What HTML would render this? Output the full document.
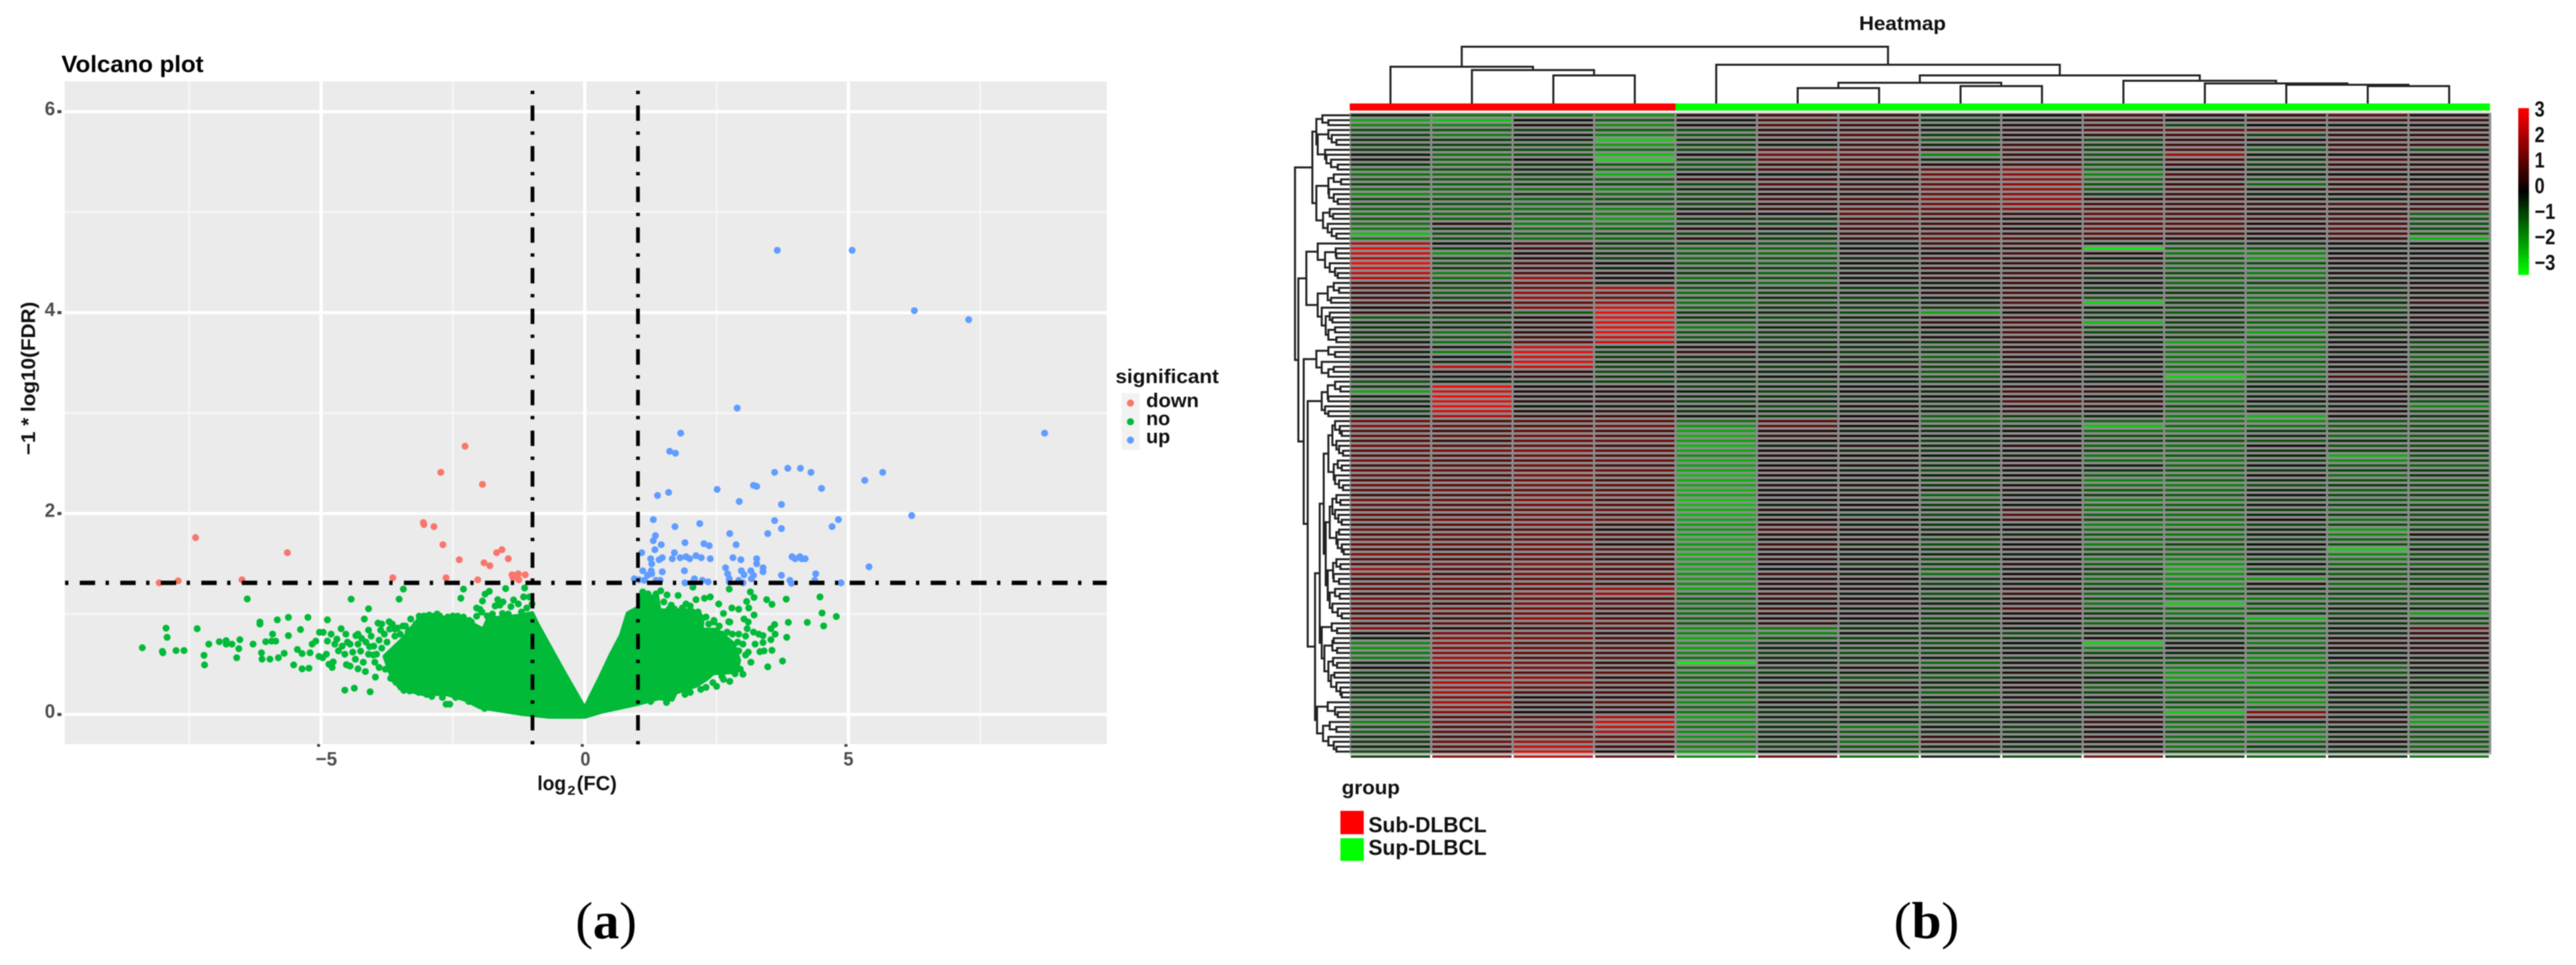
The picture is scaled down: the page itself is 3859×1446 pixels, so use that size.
<!DOCTYPE html>
<html lang="en">
<head>
<meta charset="utf-8">
<title>Volcano plot and heatmap</title>
<style>
html,body{margin:0;padding:0;background:#fff;}
body{width:3859px;height:1446px;overflow:hidden;}
svg{display:block;filter:blur(.8px);}
text{font-family:"Liberation Sans",sans-serif;font-weight:bold;}
.cap{font-family:"Liberation Serif",serif;font-weight:normal;}
</style>
</head>
<body>
<svg id="figure" xmlns="http://www.w3.org/2000/svg" width="3859" height="1446" viewBox="0 0 3859 1446">
  <defs>
    <linearGradient id="bar-grad" x1="0" y1="0" x2="0" y2="1">
      <stop offset="0" stop-color="#ff0000"/><stop offset=".5" stop-color="#000"/><stop offset="1" stop-color="#00ff00"/>
    </linearGradient>
  </defs>
  <g id="volcano">
    <rect x="97" y="122" width="1561" height="993" fill="#EBEBEB"/>
    <g id="v-grid"></g>
    <g id="v-no"></g>
    <g id="v-down"></g>
    <g id="v-up"></g>
    <g id="v-ref"></g>
    <g id="v-axes"></g>
    <text x="92" y="108" font-size="35" textLength="213" lengthAdjust="spacingAndGlyphs" fill="#000">Volcano plot</text>
    <text transform="translate(52.5,682) rotate(-90)" font-size="30" textLength="230" lengthAdjust="spacingAndGlyphs" fill="#111">−1 * log10(FDR)</text>
    <text x="805" y="1184" font-size="31" textLength="43" lengthAdjust="spacingAndGlyphs" fill="#111">log</text>
    <text x="850" y="1191" font-size="19" textLength="12" lengthAdjust="spacingAndGlyphs" fill="#111">2</text>
    <text x="864" y="1184" font-size="31" textLength="60" lengthAdjust="spacingAndGlyphs" fill="#111">(FC)</text>
    <g>
      <text x="1671" y="574" font-size="30" textLength="155" lengthAdjust="spacingAndGlyphs" fill="#111">significant</text>
      <rect x="1680" y="589" width="27" height="85" fill="#F2F2F2"/>
      <circle cx="1693.5" cy="604" r="5.3" fill="#F8766D"/>
      <circle cx="1693.5" cy="632" r="5.3" fill="#00BA38"/>
      <circle cx="1693.5" cy="659.5" r="5.3" fill="#619CFF"/>
      <text x="1717" y="610" font-size="30" textLength="79" lengthAdjust="spacingAndGlyphs" fill="#111">down</text>
      <text x="1717" y="637" font-size="30" textLength="36" lengthAdjust="spacingAndGlyphs" fill="#111">no</text>
      <text x="1717" y="664" font-size="30" textLength="36" lengthAdjust="spacingAndGlyphs" fill="#111">up</text>
    </g>
    <text class="cap" x="862" y="1406" font-size="78" textLength="92" lengthAdjust="spacingAndGlyphs" fill="#000">(<tspan font-weight="bold">a</tspan>)</text>
  </g>
  <g id="heat">
    <text x="2785" y="45" font-size="30" textLength="130" lengthAdjust="spacingAndGlyphs" fill="#111">Heatmap</text>
    <g id="h-top-tree"></g>
    <g id="h-group"></g>
    <rect x="2022" y="169" width="1710" height="961" fill="#8c8c8c"/>
    <rect x="2022" y="1128" width="1710" height="3" fill="#b5b5b5"/>
    <g id="h-cells"></g>
    <g id="h-left-tree"></g>
    <rect x="3772.5" y="162" width="16" height="250" fill="url(#bar-grad)"/>
    <g id="h-scale"></g>
    <text x="2010" y="1190" font-size="30" textLength="87" lengthAdjust="spacingAndGlyphs" fill="#111">group</text>
    <rect x="2008" y="1215" width="35" height="35" fill="#ff0000"/>
    <rect x="2008" y="1256" width="35" height="34" fill="#00ff00"/>
    <text x="2050" y="1247" font-size="32" textLength="177" lengthAdjust="spacingAndGlyphs" fill="#111">Sub-DLBCL</text>
    <text x="2050" y="1281" font-size="32" textLength="177" lengthAdjust="spacingAndGlyphs" fill="#111">Sup-DLBCL</text>
    <text class="cap" x="2837" y="1406" font-size="78" textLength="98" lengthAdjust="spacingAndGlyphs" fill="#000">(<tspan font-weight="bold">b</tspan>)</text>
  </g>
</svg>
<script>
/* ---------- volcano data: [log2FC, -log10 FDR] ---------- */
const xTickValues=[-5,0,5];
const xTickLabels=["−5","0","5"];
const yTickValues=[0,2,4,6];
const yTickLabels=["0","2","4","6"];
const xMajorGrid=[-5,0,5];
const xMinorGrid=[-7.5,-2.5,2.5,7.5];
const yMajorGrid=[0,2,4,6];
const yMinorGrid=[1,3,5];
const fcCutoffs=[-1,1];
const fdrCutoff=[1.31];
const downPoints=[[-2.27,2.67],[-2.73,2.41],[-1.94,2.29],[-3.06,1.91],[-3.05,1.89],[-2.86,1.87],[-7.38,1.76],[-2.69,1.69],[-5.64,1.61],[-1.57,1.64],[-1.67,1.61],[-1.45,1.55],[-2.38,1.54],[-1.91,1.51],[-1.8,1.48],[-3.64,1.36],[-6.5,1.34],[-7.71,1.33],[-8.07,1.31],[-2.63,1.36],[-2.03,1.34],[-1.38,1.39],[-1.31,1.385],[-1.25,1.34],[-1.36,1.36],[-1.13,1.39],[-1.26,1.4]];
const upPoints=[[3.65,4.62],[5.07,4.62],[6.25,4.02],[7.28,3.93],[2.89,3.05],[8.72,2.8],[1.82,2.8],[1.61,2.62],[1.72,2.6],[3.6,2.41],[3.85,2.45],[4.09,2.45],[4.29,2.41],[4.49,2.25],[5.31,2.33],[5.65,2.41],[2.51,2.24],[3.2,2.28],[3.26,2.27],[1.59,2.21],[1.38,2.18],[2.93,2.12],[3.73,2.09],[6.2,1.98],[1.3,1.94],[2.18,1.9],[1.71,1.87],[3.6,1.93],[3.73,1.85],[4.81,1.94],[4.69,1.87],[2.75,1.8],[3.47,1.8],[1.34,1.78],[1.3,1.73],[1.45,1.69],[1.9,1.71],[2.26,1.7],[2.36,1.68],[2.87,1.69],[1.33,1.64],[1.08,1.61],[1.7,1.61],[2.11,1.58],[2.21,1.56],[1.81,1.56],[1.92,1.57],[1.99,1.55],[1.66,1.55],[1.47,1.56],[1.41,1.54],[1.25,1.55],[2.38,1.55],[2.81,1.56],[2.96,1.54],[3.26,1.55],[3.26,1.5],[3.93,1.57],[3.99,1.55],[4.08,1.57],[4.11,1.55],[4.18,1.55],[1.27,1.5],[2.67,1.46],[3.38,1.46],[3.38,1.42],[5.39,1.47],[1.89,1.43],[1.47,1.42],[1.1,1.43],[1.26,1.43],[2.97,1.43],[3.15,1.43],[2.71,1.4],[3.02,1.39],[3.2,1.385],[3.73,1.385],[4.38,1.4],[1.19,1.385],[1.27,1.4],[2.08,1.35],[2.74,1.35],[2.23,1.335],[3.16,1.35],[3.89,1.335],[.94,1.35],[1.03,1.34],[1.13,1.335],[1.35,1.335],[1.43,1.335],[1.9,1.31],[2.03,1.31],[2.34,1.32],[2.74,1.32],[2.92,1.335],[3,1.31],[3.92,1.305],[4.36,1.335],[4.86,1.31]];
const noPoints=[[-8.39,.664],[-8.01,.628],[-8,.615],[-7.94,.859],[-7.92,.768],[-7.75,.636],[-7.6,.636],[-7.35,.854],[-7.22,.589],[-7.21,.493],[-7.13,.7],[-6.93,.724],[-6.8,.735],[-6.8,.7],[-6.69,.7],[-6.54,.744],[-6.56,.655],[-6.6,.565],[-6.4,1.15],[-6.29,.7],[-6.16,.92],[-6.16,.9],[-6.13,.614],[-6.12,.551],[-6.05,.724],[-5.94,.73],[-5.86,.73],[-5.97,.551],[-5.81,.565],[-5.7,.609],[-5.83,.942],[-5.62,.967],[-5.92,.8],[-5.62,.785],[-5.39,.845],[-5.25,.967],[-5.52,.493],[-5.36,.454],[-5.23,.46],[-5.45,.647],[-5.36,.606],[-5.21,.614],[-5.17,.7],[-5.1,.73],[-5.03,.818],[-4.96,.818],[-5.04,.578],[-4.97,.565],[-4.88,.942],[-4.88,.73],[-4.81,.8],[-4.74,.7],[-4.67,.633],[-4.62,.854],[-4.53,.8],[-4.43,1.148],[-4.55,.242],[-4.37,.262],[-4.07,.226],[-4.77,.523],[-4.79,.468],[-4.52,.496],[-4.45,.482],[-4.45,.7],[-4.34,.785],[-4.23,.757],[-4.3,.7],[-4.18,.95],[-4.1,1.052],[-4.1,.84],[-4.3,.454],[-4.16,.427],[-3.97,.372],[-3.92,.909],[-3.87,.84],[-3.71,.923],[-3.9,.468],[-3.52,1.148],[-3.44,1.248],[-4.08,.675],[-4.01,.592],[-3.61,.344],[-3.5,.303],[-3.43,.24],[-3.32,.234],[-3.14,.978],[-2.56,.102],[-2.63,.102],[-2.35,1.157],[-2.3,1.248],[-1.94,1.129],[-1.89,1.198],[-1.81,1.226],[-1.65,1.143],[-1.5,1.253],[-1.14,1.259],[-1.16,1.17],[-1.4,1.074],[-1.26,1.1],[-1.05,1.17],[-1,1.1],[-1.61,1.088],[-1.56,1.005],[-1.99,1.047],[-2.05,.978],[-2.41,.978],[-2.19,.936],[-3.6,.85],[-3.45,.88],[-3.3,.84],[-3.2,.9],[-3.05,.98],[-2.95,.95],[-2.75,.98],[-2.6,.97],[-4.9,.6],[-4.85,.5],[-4.7,.75],[-4.6,.68],[-4.55,.6],[-4.5,.72],[-4.4,.62],[-4.35,.55],[-4.3,.8],[-4.25,.63],[-4.2,.52],[-4.15,.72],[-4.1,.6],[-4.05,.78],[-4,.68],[-3.98,.52],[-3.95,.6],[-3.9,.74],[-3.85,.9],[-3.85,.66],[-3.8,.8],[-3.78,.45],[-3.75,.72],[-3.7,.85],[-3.68,.36],[-3.65,.9],[-3.6,.78],[-3.58,.32],[-3.55,.86],[-3.5,.8],[-3.48,.3],[-3.4,.88],[-3.35,.82],[-3.3,.95],[-3.25,.78],[-3.2,.3],[-3.15,.22],[-3.1,.95],[-3,.2],[-2.95,.99],[-2.9,.18],[-2.8,1],[-2.7,.17],[-2.65,.95],[-2.5,.98],[-2.45,.17],[-2.3,.97],[-2.2,.13],[-2.15,.92],[-2.05,1.06],[-1.95,1.02],[-1.85,.98],[-1.75,1],[-1.7,1.08],[-1.55,1.12],[-1.45,1],[-1.35,1.14],[-1.2,1.02],[-1.1,1.06],[-1.9,.06],[1.44,1.231],[1.56,1.19],[1.77,1.184],[1.92,1.1],[2.05,1.267],[2.11,1.143],[2.27,1.157],[2.38,1.17],[2.54,1.1],[2.74,1.248],[3.14,1.22],[3.21,1.165],[3.07,1.124],[3.45,1.143],[3.55,1.096],[3.82,1.148],[4.46,1.17],[4.5,1.01],[4.77,.975],[4.53,.881],[4.22,.917],[3.86,.917],[3.6,.895],[3.53,.854],[3.61,.8],[3.38,.785],[3.38,.716],[3.83,.768],[3.23,.7],[3.53,.744],[3.32,.625],[3.4,.633],[3.55,.639],[3.75,.532],[3.47,.474],[3.05,.592],[2.92,.633],[2.63,.35],[2.43,.317],[2.85,.405],[2.63,1.005],[2.79,1.06],[2.92,1.047],[3.11,1.06],[3.21,.99],[3.02,.95],[2.73,.923],[2.45,.936],[3.08,.854],[2.92,.8],[1.64,1.088],[2.18,.978],[1.74,.24],[1.89,.248],[2.53,.454],[2.4,.413],[1.1,1.22],[1.2,1.2],[1.3,1.15],[1.35,1.2],[1.5,1.12],[1.6,1.05],[1.7,1.05],[1.85,1.06],[2,1.08],[2.15,1.02],[2.3,.97],[2.35,.9],[2.45,.92],[2.55,.88],[2.6,.8],[2.7,.82],[2.75,.92],[2.8,.8],[2.9,.72],[3,.7],[3.05,.78],[3.1,.62],[3.15,.52],[2.95,.45],[3,.4],[2.75,.33],[2.6,.38],[2.5,.28],[2.3,.27],[2.2,.25],[2,.22],[1.9,.2],[1.55,.12],[1.25,.13],[3.2,.82],[3.3,.8],[3.1,.92]];
const cloudLeft=[[0,.055],[-.378,.4],[-.669,.675],[-.9,.895],[-1,1.005],[-1.25,.978],[-1.83,.95],[-1.92,.84],[-2.12,.895],[-2.41,.978],[-2.56,.923],[-2.85,.99],[-3.14,.95],[-3.43,.757],[-3.79,.578],[-3.68,.413],[-3.5,.262],[-3.07,.207],[-2.63,.207],[-2.27,.151],[-1.98,.074],[-1.18,.008],[-.669,-.019],[0,-.019]];
const cloudRight=[[0,.055],[.3,.372],[.497,.592],[.691,.785],[.82,1.005],[1.01,1.06],[1.07,1.17],[1.37,1.17],[1.41,1.033],[2.05,1.033],[2.23,.95],[2.21,.84],[2.5,.84],[2.82,.7],[2.92,.537],[2.87,.427],[2.43,.413],[2.31,.358],[2.11,.289],[1.72,.22],[1.66,.151],[1.4,.165],[1.01,.11],[.3,.028],[0,-.019]];

/* ---------- heatmap data ---------- */
const groupLabels=["Sub","Sub","Sub","Sub","Sup","Sup","Sup","Sup","Sup","Sup","Sup","Sup","Sup","Sup"];
const heatRows=[
[-.3,-1.4,-1.3,-1.8,.5,.9,.7,-.5,.1,.9,.4,.6,1.1,.3],
[-2,-2.4,0,-1,-.1,.8,.8,-.4,-.1,.6,.1,.6,.6,.6],
[-1.6,-1.6,.2,-1.7,.2,1,.6,-.3,.3,.8,-.7,0,-.1,.1],
[-.8,-.9,-.7,-1,-.8,.4,.5,-.2,.4,.9,1.1,1,.5,.4],
[-.7,-1.5,-.2,-1.6,-.9,.6,.9,-.6,.2,.5,.7,-.7,.5,.5],
[-.5,-.6,-.4,-2.6,-.5,.2,.8,-.9,.3,-.8,.6,.2,.6,.5],
[-.6,-.7,-.7,-1.9,-.7,-.2,.6,-.3,.7,-.6,.7,-.3,.5,.6],
[-.6,-.8,-.8,-1.2,-.8,.9,1,.4,.8,-.7,.9,-.9,.8,-.8],
[-.1,-1.3,-.9,-2.4,.1,1.4,1.1,-1.6,.5,-.9,1.9,-.1,0,.2],
[-.2,-1.1,.1,-2.7,-.7,1.2,.9,-.4,.6,-.8,.8,-.5,.9,.5],
[-.5,-1.2,-.5,-1,-.9,.6,1.2,.2,.7,-1,.6,-.6,.5,.3],
[-1.1,-.9,-.4,-1.3,-.7,.8,.7,1.2,1.8,-1.2,.1,-.4,.5,.6],
[-1.3,-1.3,-.6,-2.2,.1,-.1,.5,1.3,1.7,-1.6,.8,-.2,.1,0],
[-1,-1,-.9,-1.2,.5,.6,.4,1.4,1.8,-1.3,.6,-.8,.9,.2],
[-.7,-1.1,-.6,-.8,-.8,.9,.6,1.1,1.7,-.9,.5,-1.2,.3,.4],
[-1.2,-1.1,-1.3,-1.6,-.4,.4,.6,1.3,1.8,-1,.9,.2,.7,.5],
[-1.7,-1.4,-.5,-1.2,-.8,.3,.3,1.2,1.7,-.5,.7,-.3,.1,-.6],
[-.8,-.8,-1.1,-.9,-.6,.7,.8,1.5,1.9,.4,.6,.2,-.3,.3],
[-.9,-.9,-1.2,-.8,-.7,.5,.7,1.4,1.7,.8,.8,.6,.9,.6],
[-1.1,-1.2,-1.3,-1.6,-.3,.5,1,1.2,1.6,1,.6,.4,.3,.7],
[-1.3,-1.2,-1,-1.4,.3,.2,1.1,1,.5,1.1,.9,.4,.6,-1.1],
[-1,-1.1,-1.3,-1.9,-.6,-.6,.8,.6,.3,1.2,.9,.6,.7,-.9],
[-1.3,.4,-1.5,-1.4,-.6,-.7,.9,.7,.4,.9,1,.2,.8,-.9],
[-1.4,-.5,-1.2,-1.2,.3,.2,.6,.5,.2,1.2,.8,.5,1,-.8],
[-2.4,-.9,-1.1,-.9,-.7,-.5,.7,.9,.6,1,.9,.3,.9,-1],
[-1.4,-.8,-1.3,-1.2,.4,-.6,.5,1.1,.9,.7,.3,.1,.5,-2.2],
[2.2,-.1,.8,-.5,-.7,-.9,-.2,.7,.6,-.3,-.7,-.4,.1,-.2],
[2.7,-.6,.5,-.8,-1.2,-1.1,-.1,.5,.4,-2.9,-1.1,-.9,-.2,.1],
[2.6,-1.8,.2,-.4,-1,-1.3,.2,.1,.8,.3,-1.4,-1.6,0,-.1],
[2.2,-.7,.3,-.7,-1.3,-.9,-.4,.8,.4,-.2,-.9,-1.9,.3,.2],
[3,-.9,.8,.1,-1,-1.1,.1,.3,.6,.7,-1,-.8,.1,-.2],
[2.7,-.6,.6,-.3,-.8,-.7,-.3,.6,.3,-.6,-1.2,-1.3,-.2,0],
[2.4,-1.6,1,.2,-.6,-1.2,.2,.2,.7,.2,-.8,-1.5,.2,.1],
[2.2,-1.2,1.9,.1,-1.3,-.8,-.1,.5,.5,-.5,-1,-1.2,-.3,-.2],
[1,-.6,1.1,-.2,-.7,-1.3,.1,-.2,.6,.1,-1.2,-.7,.1,.1],
[.8,-.9,1.3,2,-.9,-.5,-.6,.1,.4,-.6,-.8,-1.3,-.5,.4],
[.6,-1.1,1.8,1.4,-1.3,-.7,-.3,.4,.8,-.3,-.5,-1,-.2,-.1],
[.7,-.8,1.8,1.2,-.9,-.4,-.7,-.2,.5,-.9,-.9,-1.4,-.7,.3],
[.8,.7,1.1,1.9,-1.4,-.8,-.4,-.2,.9,-2.6,-.6,-1.1,-.4,.5],
[0,-.2,1.6,2.8,-1.1,-.5,-.6,-.6,.4,-.2,-.8,-1.5,-.9,.2],
[.6,.5,-1,3,-.6,-.4,-.8,-2,.2,-.5,-1,-.9,-.5,-.1],
[-1,-.8,.2,2.9,-.5,-.8,-.3,.3,.7,-.4,-.4,-1.3,-.2,.4],
[-.4,-.6,.5,2.8,-.9,-.6,-.5,.5,.8,-2.3,-.7,-1.1,-.3,.1],
[-.5,-.4,.4,2.9,-1.5,-.3,-.7,.1,.5,-.6,-.6,-1.2,-.6,-.2],
[-.5,-1.4,.5,3,-.9,-.6,-.4,-.3,.9,-.8,-.9,-2,.1,.2],
[-.6,-.8,.7,2.6,-1,-.7,-.6,.2,.6,-.2,-.5,-1,-.4,-.1],
[-.2,-1.3,1,2.6,-.3,-.4,-.2,-.5,.4,-.4,-2,-1.3,-.1,-.7],
[.4,-.2,2.6,-.5,.2,-.5,-.4,-.9,.3,-.2,-1.1,-1.6,.1,-.9],
[-.3,-1.5,2.9,-.7,.6,-.2,-.6,-.5,.7,.1,-1.4,-1,-.2,-.6],
[0,-.1,2.6,-.6,-.3,-.4,-.3,-1.1,.2,-.3,-1.2,-1.5,0,-1.1],
[-.5,-.4,2.8,-.4,-.5,-.2,-.5,-.7,.6,-.1,-1.6,-.9,.2,-.7],
[.3,2.4,2.5,-.7,-.4,-.5,.4,-.6,.1,-.4,-1.1,-1.3,-.1,-.8],
[-.2,.3,.4,-.8,-.1,-.3,-.7,-1,.3,.2,-1.7,-1.1,.4,-1],
[.2,-.2,.5,-.5,-.6,-.1,-.2,-.8,.2,-.3,-2.6,-1.2,.8,-.6],
[-.9,-.3,-.4,-.7,-.4,-.6,-.3,-.6,-.1,-.2,-1.5,-.6,.2,-.3],
[-.6,2.9,.1,.2,-.7,-.3,-.1,-.2,.4,.3,-1,-.2,-.1,.2],
[-2,2.7,.3,.4,-.2,-.7,.1,-.4,.8,.6,-1.3,-.6,.3,-.7],
[-.3,3,.2,.1,-.4,-.5,-.4,-.1,.3,-.1,-1.1,-.3,.1,-.4],
[-.4,2.8,.4,.6,-.7,-.2,-.2,-.3,.9,.5,-1.5,-.1,.2,-.9],
[-.1,3,-.1,-.2,-.3,-.8,.2,-.5,.4,.4,-.8,-.5,-.2,-1.6],
[-.7,2.6,.3,.5,-.5,-.4,-.3,-.2,.5,-.1,-1.2,-.2,.3,-.8],
[-.3,2.2,.6,.7,-.1,-.6,.1,-1.1,-.7,-.3,-1.4,-2.2,.1,-.5],
[1.2,.8,1,1,-1.3,.9,.2,-1.1,-.8,-1.1,-1.4,-1.7,-.9,-1],
[1.5,1.2,.9,1.3,-1.8,1.1,.1,-.7,-.5,-2.4,-1.2,-1.3,-1,-.8],
[.9,.7,1.1,.8,-2,.3,-.3,-.4,.1,-1.3,-1.5,-.6,-.7,-.5],
[1.1,1.1,1.4,.9,-2.1,.6,.2,-.2,.3,-.9,-1,-.3,-1.2,-1],
[.8,.6,1.2,1.3,-1.9,.1,-.1,-.6,-.2,-.7,-.8,-.9,-.4,-.6],
[1.3,1,1.1,.7,-2.2,-.3,.3,-.3,.4,-1.1,-1.3,.1,-.9,-.8],
[1,1.4,1.5,1.1,-2,.2,-.4,-.5,0,-.6,-1.1,-.5,-.6,-.4],
[.9,.9,1.3,.9,-1.7,.3,.1,-.1,-.3,-1.4,-1,-.2,-2.1,-.9],
[1.4,.8,1,1.2,-2.1,-.1,-.2,-.6,.2,-1.2,-1.4,-.7,-1.7,-.7],
[.7,1,1.4,.7,-1.9,.1,.2,-.4,.3,-.2,-1.2,-.1,-1,-1.1],
[1.1,1.2,1.1,1.3,-2,.4,-.3,-.8,-.1,-.5,-.9,-.6,-.7,-.6],
[1.2,.7,1.5,1,-2.3,.2,.1,-.2,.1,-1.1,-1.3,.2,-1.3,-.5],
[.8,1.1,1.2,.8,-2.1,-.2,-.1,-.7,-.4,-1.6,-1.1,-.4,-.9,-1],
[1.3,.9,1.4,1.1,-2,.3,.3,-.5,.2,-1.3,-1.5,-.8,-.5,-.7],
[1,1.3,1,.9,-2.2,-.1,-.4,-.3,.3,-1,-1.2,-.3,-1.1,-.9],
[.6,.8,1.3,1.2,-2,.2,.2,-1.1,-.2,-.7,-1,-.1,-.8,-.6],
[1.4,1.2,1.6,.7,-2.4,.1,-.2,-.9,.1,-1.5,-1.4,-.5,-1,-1.2],
[1.1,.9,1.3,1,-2.3,-.3,.1,-.6,-.1,-1.2,-1.1,-.2,-.7,-.8],
[.9,1.1,1.1,1.2,-2.1,.3,-.1,-.4,.6,-1.4,-.9,-.6,-1.2,-.5],
[1.2,.8,1.4,.8,-2.2,-.2,-.5,-.8,1,-1.1,-1.3,-.4,-.6,-.9],
[1,1.4,1.2,1.3,-2,.1,.2,-.3,.7,-.8,-1.2,.1,-1.4,-.7],
[.7,1,1.5,.5,-1.9,.6,-.3,-.6,-.2,-1.6,-1.5,-.7,-.8,-1],
[1.3,.7,1,.2,-1.8,.8,.2,-.4,.1,-1.3,-1,-.3,-1.9,-.6],
[.8,1.3,1.3,.9,-2,.3,-.1,-.2,-.4,-1,-1.4,-.2,-1.6,.2],
[1.2,.9,1.1,.6,-2.1,.1,.3,-.7,.2,-1.2,-1.1,-.6,-1.1,-.4],
[1.1,1.2,1.4,.3,-1.8,.7,-.4,-.9,-.1,-1.5,-.8,-.1,-.9,-.8],
[.9,.6,1.2,1,-1.9,.4,.1,-.5,.3,-.9,-1.3,-.5,-2.6,-.3],
[1.5,1.1,1.3,.8,-2.2,.2,-.2,-.3,-.3,-.7,-1.2,-.2,-1.6,-.9],
[1,.8,1,.5,-2,.5,.2,-.8,.1,-1.4,-1.6,-.8,-1.4,-.6],
[.8,1.3,1.5,1.1,-1.9,.1,-.5,-.6,.4,-1.1,-1.8,-.1,-1.2,-1.1],
[2,1,1.2,.7,-2.1,-.1,.1,-1,-.2,-.6,-2.1,-.9,-.8,-.5],
[1.3,.7,1.4,1.2,-1.8,.6,-.3,-1.3,.1,-.9,-1.8,-.3,-1.1,-.7],
[.7,1.4,1.1,.9,-1.9,.3,.2,-.4,.3,-1.3,-1.6,-1.9,-.6,-.9],
[1,.9,1.3,.6,-1.7,.4,-.1,-.7,-.2,-1,-1.9,.2,-1.3,-.4],
[1.2,1.2,1,1.9,-2,.2,.3,-.2,.5,-.5,-1.4,-.5,-.9,-.8],
[.6,.8,1.6,2,-1.3,.7,-.2,-.9,.7,-1.2,-1.1,-.7,-.7,-1.1],
[1.4,1.1,1.2,.8,-1.1,.5,.1,-.5,.2,-.8,-1.3,-1.4,-1,-.6],
[.9,.6,1.5,1.1,-1.4,.1,.4,-.3,.4,-1.4,-2.6,-.8,-.6,-.9],
[1.1,1.3,1.3,.7,-1.2,.6,-.2,-.7,.8,-.9,-1.2,-1.2,-.3,-.3],
[.8,1,1.4,.5,-1.3,.4,.3,-.4,.3,-.6,-1.5,-.6,-.8,-2],
[1.3,.7,1.7,.9,-1.1,.2,.1,-.8,.1,-.7,-.9,-2.3,-.4,-.6],
[.7,1.2,1.1,1.1,-1,.5,-.3,-.5,.2,-1.2,-1.3,-1.2,-.5,-.9],
[1.6,.3,.6,.9,-1.8,-1.4,-.5,-.7,-.2,.1,-.2,-1.2,-.1,.9],
[.2,1.6,1.3,.4,-1.6,-1.6,-.1,-.3,-.8,-.4,-.9,-1.4,-.4,.6],
[-.2,1.5,1.4,.8,-2.1,-.9,-.7,-.5,-.5,.1,-.6,-.9,.2,.5],
[-1.6,1.8,1,.6,-1.7,-.5,-.3,-.9,-.1,-2.6,-.2,-1.5,.4,.2],
[-1.7,1.5,1.2,1,-1.9,-.2,-.6,-.4,-.3,-1.5,.1,-.7,.1,.4],
[-1.4,1.7,1.1,.7,-1.6,-.7,-.9,-.8,.1,-.8,-.4,-1.3,-.3,.3],
[-1.5,2,.9,1,-1.3,-.4,-.4,-.2,-.6,-.3,-.8,-1.7,0,-.2],
[-.3,1.8,1.4,.4,-2.9,-.1,-.6,-1.2,.2,-1,-1,-1.1,-.6,.3],
[.1,1.6,1.5,.6,-1.2,-.5,.3,-.7,-.2,-.4,-1.6,-1.4,-1.2,-.3],
[-.6,1.4,1,1.1,-1.5,-.6,-.3,-.5,.3,-.9,-1.9,-1.9,-.9,-.1],
[-.4,1.7,1.8,.3,-1.1,-.2,-.8,-1,-.4,-.2,-2,-1.3,-.5,-.7],
[-.2,2.2,1.6,.9,-1.4,.1,-.5,-.3,.1,-.5,-1.3,-2.1,-.3,.1],
[-.5,1.9,1.2,.5,-1,-.7,.4,-.6,.4,-1.1,-1.1,-1.2,-.7,-.4],
[-.3,2.1,.8,.8,-1.5,-.4,-.2,-1.1,-.3,-.7,-1.7,-1.6,.1,-.6],
[-1,1.5,.2,.3,-1.3,-.6,-.6,-.2,.2,-.2,-1.5,-1.4,-.4,-1.2],
[-.8,2.1,.5,1,-1.7,.1,.2,-.9,-.5,-.8,-.8,-1.9,-.2,-.8],
[-.5,1.8,.3,.6,-1.2,-.3,-.4,-.4,.3,-.4,-1.2,-1.1,-.6,-1.3],
[-.9,1.6,.1,.2,-1.4,-.5,-.9,-.7,-.1,-.6,-2.5,1.5,.2,-1],
[-.7,.9,.9,2.3,-2,-.3,-.5,-.3,-.4,.3,-1.3,1.2,-.2,-1.7],
[-1.6,1.3,1,2.6,-1.5,-.7,-.3,-.6,-.2,.6,-1.1,-.2,.4,-2],
[-.8,.8,1.2,2.4,-1.4,-.4,-1.4,-.1,-.5,.2,-1.5,-1.2,-.3,-1.2],
[-1.1,1.1,1,2.2,-1.7,-.6,-1,-.4,-.6,-.1,-.7,-1.4,-.1,-.7],
[-.4,.7,1.3,1.1,-1.8,-.2,-.8,.5,-.3,.5,-1.3,-1.6,-.4,-1],
[-.6,1.3,2.1,1.2,-1.3,-.5,-1.3,.7,-.1,.3,-1,-1.1,.2,-.9],
[-.3,1,2.4,.6,-1.5,-.6,-.9,-.3,-.4,-.2,-1.4,-.6,-.2,-1.2],
[-.9,.8,2.8,.2,-1.9,-.1,-.7,-.5,-.2,.4,-.8,-1,-.5,-.6],
[-.5,1.4,2,.9,-1.4,1,-1.1,-.2,-.7,1.1,-.5,-.9,-.3,-1.2]
];
const colTree=[85,[55,0,[50,1,[42,2,3]]],[58,4,[42,[31,[23,5,6],[26,7,8]],[34,9,[30,10,[28,11,[26,12,13]]]]]]];
const groupA=[56,[50,[41,0,[32,1,2]],[48,[32,3,[27,4,[20,5,6]]],[37,7,[35,8,[28,9,[18,10,11]]]]]],[50,[32,[24,12,[13,13,14]],[31,15,[24,16,[18,17,18]]]],[40,[30,19,[25,20,21]],[33,22,[27,23,[20,24,25]]]]]];
const groupP=[65,[48,26,[37,[21,27,[20,28,29]],[30,30,[22,31,[18,32,33]]]]],[48,[33,[24,34,[16,35,36]],[28,37,38]],[42,39,[36,[30,40,[26,41,42]],[32,[22,43,44],[20,45,46]]]]]];
const groupQa=[50,[32,47,[22,48,49]],[42,50,[32,[24,51,52],53]]];
const groupQb=[42,[33,[22,54,[14,55,56]],[32,57,58]],[37,59,[32,60,61]]];
const groupT=[45,[39,[32,[26,[22,62,[15,63,[12,64,65]]],[20,66,[16,67,[10,68,69]]]],[24,[18,70,[12,71,72]],[22,73,[16,74,[10,75,76]]]]],[36,[30,[26,[20,77,[14,78,79]],[22,80,[17,81,[12,82,83]]]],[20,[16,84,85],[18,86,[12,87,[9,88,89]]]]],[33,[25,[20,90,[14,91,92]],[24,93,[16,94,95]]],[30,[22,96,[15,97,98]],[26,99,[18,100,[12,101,102]]]]]]],[42,[27,103,[19,104,105]],[38,[26,[24,106,107],[19,108,109]],[32,[25,110,[19,111,112]],[28,[23,113,114],[20,115,[14,116,[12,117,118]]]]]]]];
const groupV=[49,[33,119,[22,120,[18,121,122]]],[40,[30,123,[20,124,125]],[32,126,[24,127,[20,128,129]]]]];
const rowTree=[82,groupA,[77,groupP,[69,groupQa,[63,groupQb,[52,groupT,groupV]]]]];
const scaleValues=[3,2,1,0,-1,-2,-3];
const scaleLabels=["3","2","1","0","−1","−2","−3"];

/* ---------- scales ---------- */
const NS="http://www.w3.org/2000/svg";
const xV=v=>876+79*v;
const yV=v=>1070.6-150.55*v;
const colX=i=>2022+122*i;
const colC=i=>colX(i)+61;
const rowY=r=>169+7.392*r;
const rowC=r=>rowY(r)+3.7;
const scaleY=v=>278-38.3*v;
const heatColor=v=>{
  const t=Math.min(1,Math.abs(v)/3);
  const c=Math.round(255*t);
  return v>=0?`rgb(${c},0,0)`:`rgb(0,${c},0)`;
};
function mk(tag,parent,attrs,txt){
  const el=document.createElementNS(NS,tag);
  for(const k in attrs)el.setAttribute(k,attrs[k]);
  if(txt!==undefined)el.textContent=txt;
  document.getElementById(parent).appendChild(el);
  return el;
}

/* ---------- volcano: grid ---------- */
xMinorGrid.forEach(v=>{
  const el=mk('line','v-grid',{x1:xV(v),x2:xV(v),y1:122,y2:1115,stroke:'#F7F7F7','stroke-width':2.6});
  
  
});
yMinorGrid.forEach(v=>{
  const el=mk('line','v-grid',{x1:97,x2:1658,y1:yV(v),y2:yV(v),stroke:'#F7F7F7','stroke-width':2.6});
  
  
});
xMajorGrid.forEach(v=>{
  const el=mk('line','v-grid',{x1:xV(v),x2:xV(v),y1:122,y2:1115,stroke:'#fff','stroke-width':5});
  
  
});
yMajorGrid.forEach(v=>{
  const el=mk('line','v-grid',{x1:97,x2:1658,y1:yV(v),y2:yV(v),stroke:'#fff','stroke-width':4.6});
  
  
});

/* ---------- volcano: marks ---------- */
[cloudLeft,cloudRight].forEach(poly=>{
  const el=mk('polygon','v-no',{points:poly.map(p=>xV(p[0])+','+yV(p[1])).join(' '),fill:'#00BA38',stroke:'#00BA38','stroke-width':7,'stroke-linejoin':'round'});
  
  
});
noPoints.forEach(p=>{
  const el=mk('circle','v-no',{cx:xV(p[0]),cy:yV(p[1]),r:5.2,fill:'#00BA38'});
  
  
});
downPoints.forEach(p=>{
  const el=mk('circle','v-down',{cx:xV(p[0]),cy:yV(p[1]),r:5.2,fill:'#F8766D'});
  
  
});
upPoints.forEach(p=>{
  const el=mk('circle','v-up',{cx:xV(p[0]),cy:yV(p[1]),r:5.2,fill:'#619CFF'});
  
  
});

/* ---------- volcano: threshold lines ---------- */
fcCutoffs.forEach(v=>{
  const el=mk('line','v-ref',{x1:xV(v)+.7,x2:xV(v)+.7,y1:136,y2:1116,stroke:'#000','stroke-width':5.6,'stroke-dasharray':'5 17 23 15.9'});
  
  
});
fdrCutoff.forEach(v=>{
  const el=mk('line','v-ref',{x1:97.5,x2:1658,y1:yV(v),y2:yV(v),stroke:'#000','stroke-width':6.6,'stroke-dasharray':'5 17 23 15.7'});
  
  
});

/* ---------- volcano: axes ---------- */
xTickValues.forEach((v,i)=>{
  const t=mk('rect','v-axes',{x:xV(v)-6,y:1115,width:4.5,height:4,fill:'#444'});
  
  
  const neg=v<0;
  const w=neg?32:15;
  const el=mk('text','v-axes',{x:xV(v)-w/2+(neg?8:(v>0?0:1)),y:1147,'font-size':29,fill:'#4D4D4D',textLength:w,lengthAdjust:'spacingAndGlyphs'},xTickLabels[i]);
  
  
});
yTickValues.forEach((v,i)=>{
  const t=mk('rect','v-axes',{x:86,y:yV(v)-2.3,width:6,height:4.6,fill:'#444'});
  
  
  const el=mk('text','v-axes',{x:67,y:yV(v)+5,'font-size':29,fill:'#4D4D4D',textLength:15.6,lengthAdjust:'spacingAndGlyphs'},yTickLabels[i]);
  
  
});

/* ---------- heatmap: cells ---------- */
heatRows.forEach((row,r)=>{
  row.forEach((v,c)=>{
    const el=mk('rect','h-cells',{x:colX(c)+1.6,y:rowY(r)+2,width:118.8,height:3.4,fill:heatColor(v),'fill-opacity':.92});
    
    
  });
});

/* ---------- heatmap: group bar ---------- */
groupLabels.forEach((g,i)=>{
  const el=mk('rect','h-group',{x:colX(i),y:155,width:122,height:10.7,fill:g==='Sub'?'#ff0000':'#00ff00'});
  
  
});

/* ---------- heatmap: dendrograms ---------- */
function drawColTree(node){
  if(typeof node==='number')return{pos:colC(node),h:0};
  const a=drawColTree(node[1]);
  const b=drawColTree(node[2]);
  const y=h=>155-h;
  const el=mk('path','h-top-tree',{d:`M${a.pos} ${y(a.h)}V${y(node[0])}H${b.pos}V${y(b.h)}`,fill:'none',stroke:'#222','stroke-width':3});
  
  
  return{pos:(a.pos+b.pos)/2,h:node[0]};
}
function drawRowTree(node){
  if(typeof node==='number')return{pos:rowC(node),h:0};
  const a=drawRowTree(node[1]);
  const b=drawRowTree(node[2]);
  const x=h=>2022-h;
  const el=mk('path','h-left-tree',{d:`M${x(a.h)} ${a.pos}H${x(node[0])}V${b.pos}H${x(b.h)}`,fill:'none',stroke:'#222','stroke-width':3});
  
  
  return{pos:(a.pos+b.pos)/2,h:node[0]};
}
drawColTree(colTree);
drawRowTree(rowTree);

/* ---------- heatmap: colour scale labels ---------- */
scaleValues.forEach((v,i)=>{
  const el=mk('text','h-scale',{x:3797,y:scaleY(v)+11.5,'font-size':32,fill:'#111',textLength:v<0?31:15,lengthAdjust:'spacingAndGlyphs'},scaleLabels[i]);
  
  
});
</script>
</body>
</html>
